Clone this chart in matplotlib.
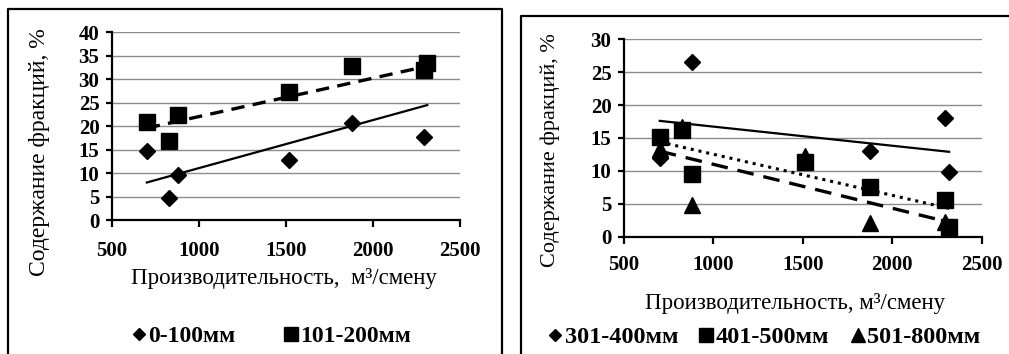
import matplotlib
matplotlib.use('Agg')
import matplotlib.pyplot as plt
from matplotlib.lines import Line2D

plt.rcParams['font.family'] = ['Liberation Serif', 'DejaVu Serif']

# left chart
x_a = [700, 825, 880, 1515, 1878, 2292]
frac_0_100 = [14.8, 4.6, 9.5, 12.7, 20.6, 17.7]
x_b = [700, 825, 880, 1515, 1878, 2292, 2312]
frac_101_200 = [21.0, 16.9, 22.3, 27.3, 32.9, 32.0, 33.4]
trend_left_x = [700, 2312]
trend_0_100 = [8.0, 24.5]
trend_101_200 = [19.6, 32.8]

# right chart
x_c = [700, 882, 1875, 2294, 2318]
frac_301_400 = [12.0, 26.6, 13.0, 18.1, 9.8]
x_d = [700, 823, 882, 1512, 1873, 2294, 2318]
frac_401_500 = [15.1, 16.2, 9.5, 11.3, 7.6, 5.6, 1.5]
x_e = [700, 823, 882, 1512, 1873, 2294]
frac_501_800 = [13.4, 16.6, 4.8, 12.2, 2.1, 2.2]
trend_right_x = [700, 2318]
trend_301_400 = [17.6, 12.9]
trend_401_500 = [14.4, 4.3]
trend_501_800 = [13.0, 2.2]

xticks = [500, 1000, 1500, 2000, 2500]
xlabel_left = 'Производительность,  м³/смену'
xlabel_right = 'Производительность, м³/смену'
ylabel = 'Содержание фракций, %'

fig = plt.figure(figsize=(10.09, 3.54), dpi=100)

# frames around the two charts
fig.add_artist(Line2D([8/1009, 8/1009, 502/1009, 502/1009], [0, 1-9/354, 1-9/354, 0],
                      transform=fig.transFigure, color='black', lw=1.6))
fig.add_artist(Line2D([521/1009, 521/1009, 1.0], [0, 1-16/354, 1-16/354],
                      transform=fig.transFigure, color='black', lw=1.6))

def style(ax, ymax, xpad):
	ax.set_xlim(500, 2500)
	ax.set_ylim(0, ymax)
	ax.set_xticks(xticks)
	ax.set_yticks(range(0, ymax+1, 5))
	ax.yaxis.grid(True, color='#8c8c8c', lw=1)
	ax.set_axisbelow(True)
	for s in ['top', 'right']:
		ax.spines[s].set_visible(False)
	ax.spines['left'].set_linewidth(1.6)
	ax.spines['bottom'].set_linewidth(1.6)
	ax.tick_params(axis='x', direction='out', length=5, width=1.6, pad=xpad, labelsize=15)
	ax.tick_params(axis='y', direction='out', length=4, width=1.6, pad=5, labelsize=15)
	for lab in ax.get_xticklabels() + ax.get_yticklabels():
		lab.set_fontweight('bold')

def key(m, size):
	return Line2D([], [], marker=m, color='black', ms=size, ls='none')

ax1 = fig.add_axes([0.111, 0.3785, 0.3449, 0.530])
style(ax1, 40, 10)
ax1.plot(trend_left_x, trend_0_100, color='black', lw=1.6)
ax1.plot(trend_left_x, trend_101_200, color='black', lw=2.4, ls=(0, (4, 2.5)))
ax1.plot(x_a, frac_0_100, 'D', color='black', ms=8.5, ls='none')
ax1.plot(x_b, frac_101_200, 's', color='black', ms=11, ls='none')
ax1.set_xlabel(xlabel_left, fontsize=16.5)
ax1.xaxis.set_label_coords(0.495, -0.256)
ax1.set_ylabel(ylabel, fontsize=17)
ax1.yaxis.set_label_coords(-0.178, 0.362)
fig.legend([key('D', 6.5), key('s', 10)], ['0-100мм', '101-200мм'], loc='center',
           bbox_to_anchor=(0.2696, 0.05), ncol=2, frameon=False,
           prop={'weight': 'bold', 'size': 17},
           handlelength=0.5, handletextpad=0.15, columnspacing=2.1)

ax2 = fig.add_axes([0.6184, 0.3314, 0.3545, 0.5576])
style(ax2, 30, 8)
ax2.plot(trend_right_x, trend_301_400, color='black', lw=1.6)
ax2.plot(trend_right_x, trend_401_500, color='black', lw=2.2, ls=(0, (1, 1.6)))
ax2.plot(trend_right_x, trend_501_800, color='black', lw=2.4, ls=(0, (5, 3)))
ax2.plot(x_c, frac_301_400, 'D', color='black', ms=8.5, ls='none')
ax2.plot(x_d, frac_401_500, 's', color='black', ms=11, ls='none')
ax2.plot(x_e, frac_501_800, '^', color='black', ms=11, ls='none')
ax2.set_xlabel(xlabel_right, fontsize=16.5)
ax2.xaxis.set_label_coords(0.477, -0.285)
ax2.set_ylabel(ylabel, fontsize=16)
ax2.yaxis.set_label_coords(-0.179, 0.439)
fig.legend([key('D', 6.5), key('s', 10), key('^', 10)], ['301-400мм', '401-500мм', '501-800мм'],
           loc='center', bbox_to_anchor=(0.758, 0.048), ncol=3, frameon=False,
           prop={'weight': 'bold', 'size': 17.5},
           handlelength=0.5, handletextpad=0.15, columnspacing=0.9)

plt.savefig('out.png', dpi=100)
